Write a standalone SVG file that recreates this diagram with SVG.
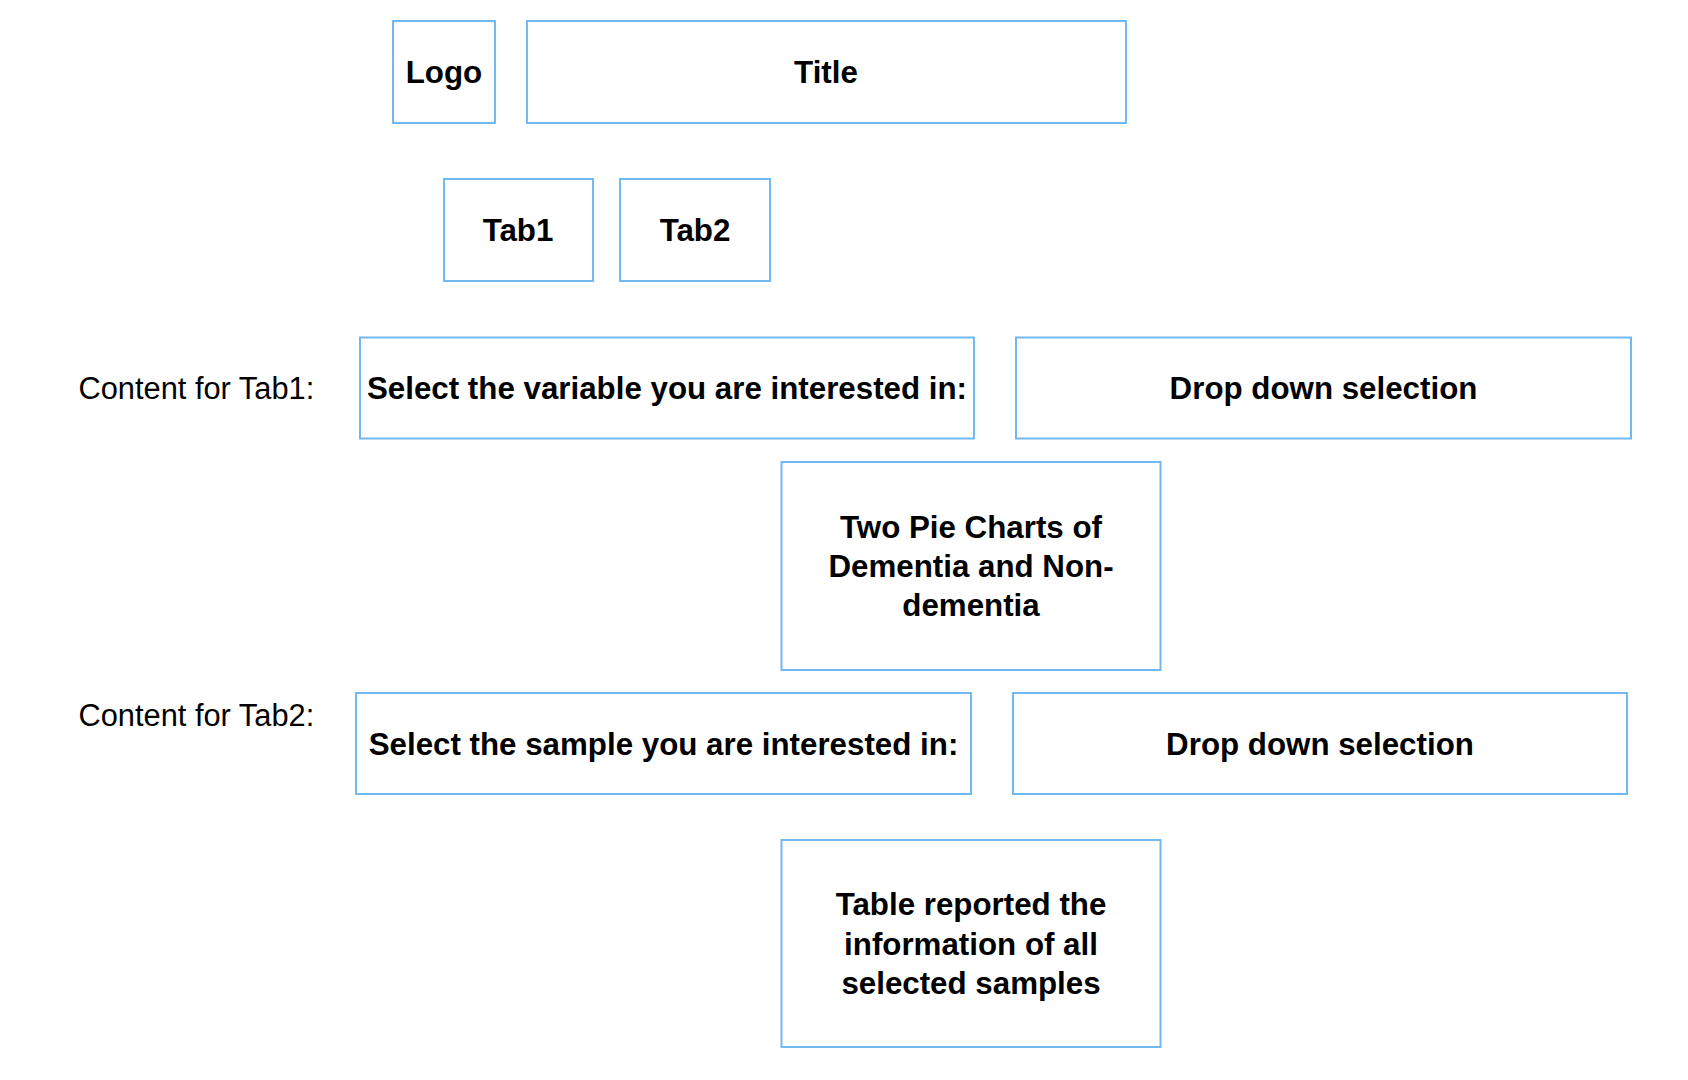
<svg xmlns="http://www.w3.org/2000/svg" width="1688" height="1080" viewBox="0 0 1688 1080">
<style>
.box{fill:#ffffff;stroke:#71B9F3;stroke-width:2}
.t{font-family:"Liberation Sans",Arial,Helvetica,sans-serif;font-weight:bold;font-size:31.3px;fill:#000;text-anchor:middle}
.lbl{font-family:"Liberation Sans",Arial,Helvetica,sans-serif;font-size:30.8px;fill:#000}
</style>
<rect width="1688" height="1080" fill="#ffffff"/>
<g id="connectors"></g>
<g id="logo"><rect class="box" x="393" y="21" width="102" height="102"/><text class="t" x="444" y="83">Logo</text></g>
<g id="title"><rect class="box" x="527" y="21" width="599" height="102"/><text class="t" x="826" y="83">Title</text></g>
<g id="tab1"><rect class="box" x="444" y="179" width="149" height="102"/><text class="t" x="518" y="241">Tab1</text></g>
<g id="tab2"><rect class="box" x="620" y="179" width="150" height="102"/><text class="t" x="695" y="241">Tab2</text></g>
<g id="label-tab1"><text class="lbl" x="78.5" y="399">Content for Tab1:</text></g>
<g id="select-variable"><rect class="box" x="360" y="337.5" width="614" height="101"/><text class="t" x="667" y="399">Select the variable you are interested in:</text></g>
<g id="dropdown1"><rect class="box" x="1016" y="337.5" width="615" height="101"/><text class="t" x="1323.5" y="399">Drop down selection</text></g>
<g id="pie-charts"><rect class="box" x="781.5" y="462" width="379" height="208"/><text class="t" x="971" y="537.5">Two Pie Charts of</text><text class="t" x="971" y="576.8">Dementia and Non-</text><text class="t" x="971" y="616">dementia</text></g>
<g id="label-tab2"><text class="lbl" x="78.5" y="726">Content for Tab2:</text></g>
<g id="select-sample"><rect class="box" x="356" y="693" width="615" height="101"/><text class="t" x="663.5" y="755">Select the sample you are interested in:</text></g>
<g id="dropdown2"><rect class="box" x="1013" y="693" width="614" height="101"/><text class="t" x="1320" y="755">Drop down selection</text></g>
<g id="table"><rect class="box" x="781.5" y="840" width="379" height="207"/><text class="t" x="971" y="915">Table reported the</text><text class="t" x="971" y="955">information of all</text><text class="t" x="971" y="994">selected samples</text></g>
</svg>
